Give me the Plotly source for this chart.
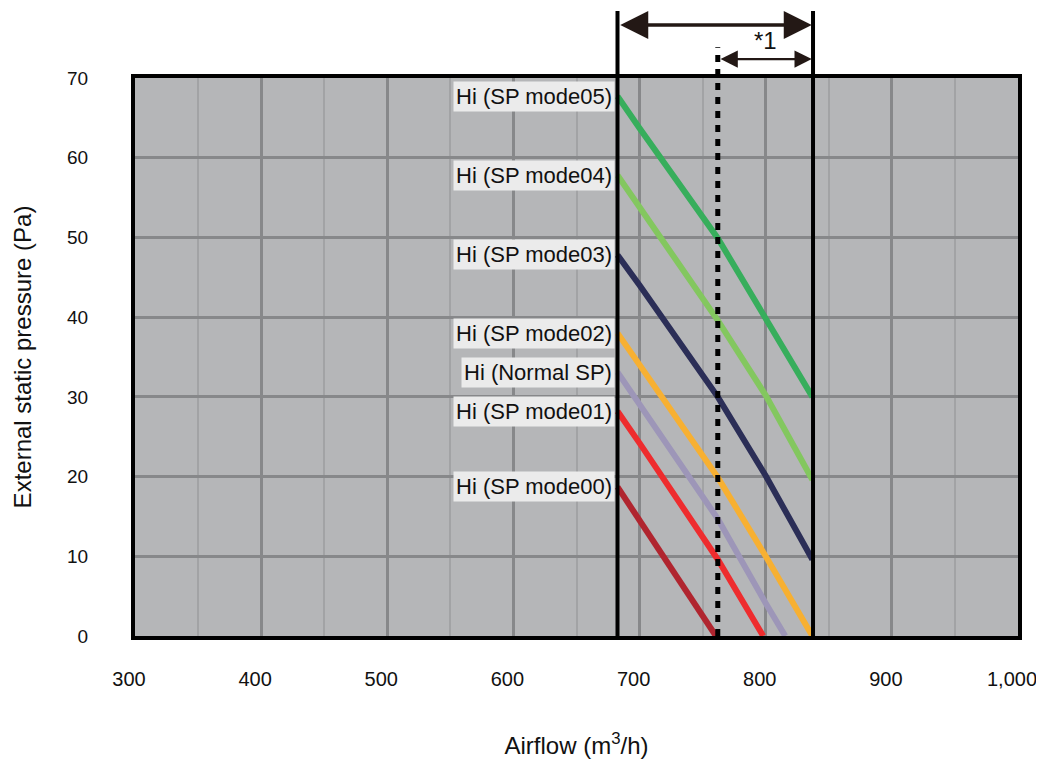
import plotly.graph_objects as go

# ---- data ----
series_names = ["Hi (SP mode05)", "Hi (SP mode04)", "Hi (SP mode03)", "Hi (SP mode02)",
                "Hi (Normal SP)", "Hi (SP mode01)", "Hi (SP mode00)"]
x_mode05 = [682.5, 700, 762, 800, 837]
y_mode05 = [67.7, 63.7, 49.9, 40.0, 30.0]
x_mode04 = [682.5, 700, 762, 800, 837]
y_mode04 = [57.8, 53.8, 39.6, 30.2, 19.6]
x_mode03 = [682.5, 700, 762, 800, 837]
y_mode03 = [47.8, 44.0, 30.0, 20.1, 9.6]
x_mode02 = [682.5, 700, 762, 800, 837]
y_mode02 = [38.0, 34.0, 19.9, 10.0, 0.0]
x_normal = [682.5, 700, 762, 800, 815.5]
y_normal = [33.1, 29.1, 14.7, 4.1, 0.0]
x_mode01 = [682.5, 700, 762, 798]
y_mode01 = [28.2, 24.2, 9.6, 0.0]
x_mode00 = [682.5, 700, 760.5]
y_mode00 = [18.7, 14.5, 0.0]
colors = ["#37AE5C", "#83C75F", "#2B2E57", "#F7B032", "#9D96B8", "#EE2C2E", "#B0252F"]

x_ticks = [300, 400, 500, 600, 700, 800, 900, 1000]
y_ticks = [0, 10, 20, 30, 40, 50, 60, 70]
range_left = 682.5
range_right = 837.5
range_star1 = 762

xs = [x_mode05, x_mode04, x_mode03, x_mode02, x_normal, x_mode01, x_mode00]
ys = [y_mode05, y_mode04, y_mode03, y_mode02, y_normal, y_mode01, y_mode00]

FONT = "Arial, Liberation Sans, sans-serif"
ARROW = "#231815"

fig = go.Figure()
for name, x, y, c in zip(series_names, xs, ys, colors):
    fig.add_trace(go.Scatter(x=x, y=y, mode="lines", name=name,
                             line=dict(color=c, width=6),
                             showlegend=False, hoverinfo="skip"))
    fig.add_annotation(x=x[0], y=y[0], xref="x", yref="y", text=name, showarrow=False,
                       xanchor="right", yanchor="middle", xshift=-3,
                       bgcolor="#EBEBEB", borderpad=2,
                       font=dict(family=FONT, size=22, color="#111111"))

# vertical range lines
for xv in [range_left, range_right]:
    fig.add_shape(type="line", xref="x", yref="paper", x0=xv, x1=xv, y0=0, y1=1.12,
                  line=dict(color="black", width=4), layer="above")
fig.add_shape(type="line", xref="x", yref="paper", x0=range_star1, x1=range_star1, y0=0, y1=1.055,
              line=dict(color="black", width=5, dash="7px,7px"), layer="above")

# arrows
fig.add_annotation(x=range_right - 1, ax=range_left + 1, xref="x", axref="x", y=1.095, yref="paper",
                   ay=0, ayref="pixel", showarrow=True, arrowhead=2, arrowside="end+start",
                   arrowsize=1.6, arrowwidth=3.5, arrowcolor=ARROW, text="")
fig.add_annotation(x=range_right - 1, ax=range_star1 + 1, xref="x", axref="x", y=1.034, yref="paper",
                   ay=0, ayref="pixel", showarrow=True, arrowhead=2, arrowside="end+start",
                   arrowsize=1.5, arrowwidth=2.3, arrowcolor=ARROW, text="")
fig.add_annotation(x=(range_star1 + range_right) / 2, y=1.068, xref="x", yref="paper",
                   yanchor="middle", xanchor="center",
                   text="*1", showarrow=False, font=dict(family=FONT, size=24, color="#111111"))

fig.update_layout(
    width=1044, height=769,
    margin=dict(l=121, r=34, t=70, b=141),
    paper_bgcolor="white", plot_bgcolor="#B5B6B8",
    font=dict(family=FONT, size=20, color="#111111"),
    xaxis=dict(range=[300, 1000], tickvals=x_ticks, tickformat=",d",
               showgrid=True, gridcolor="#87888A", gridwidth=3,
               minor=dict(dtick=50, tick0=300, showgrid=True, gridcolor="#A2A3A5", gridwidth=2),
               showline=True, linecolor="black", linewidth=4, mirror=True,
               ticks="", ticklabelstandoff=22, ticklabelshift=-6, zeroline=False,
               tickfont=dict(size=20),
               title=dict(text="Airflow (m<sup>3</sup>/h)", font=dict(size=24), standoff=49)),
    yaxis=dict(range=[0, 70], tickvals=y_ticks,
               showgrid=True, gridcolor="#87888A", gridwidth=3,
               showline=True, linecolor="black", linewidth=4, mirror=True,
               ticks="", ticklabelstandoff=39, zeroline=False,
               tickfont=dict(size=19),
               title=dict(text="External static pressure (Pa)", font=dict(size=24), standoff=30)),
)

fig.write_html("out.html")
